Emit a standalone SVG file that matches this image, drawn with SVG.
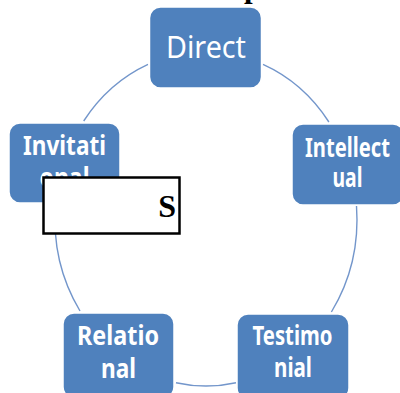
<svg xmlns="http://www.w3.org/2000/svg" width="400" height="393" viewBox="0 0 400 393">
<style>
.box{fill:#4f81bd;stroke:#ffffff;stroke-width:1.5}
.lbl{fill:#ffffff;font-family:"Noto Sans","Open Sans",sans-serif;text-anchor:middle}
.b{font-weight:bold;font-size:27px}
.arc{fill:none;stroke:#7396cb;stroke-width:1.4}
</style>
<rect width="400" height="393" fill="#ffffff"/>
<g id="connectors">
<path class="arc" d="M263,64.4 A151,167 0 0 1 328.9,122"/>
<path class="arc" d="M356.5,206 A151,167 0 0 1 331.4,312"/>
<path class="arc" d="M236,382.7 A151,167 0 0 1 176,382.7"/>
<path class="arc" d="M80,311 A151,167 0 0 1 55.5,205"/>
<path class="arc" d="M83.7,121 A151,167 0 0 1 148,64.4"/>
</g>
<text x="244" y="-3" font-family="Liberation Serif,serif" font-weight="bold" font-size="31">p</text>
<g id="direct">
<rect class="box" x="149.5" y="7" width="112" height="81" rx="11"/>
<text class="lbl" x="206" y="58" font-size="30" textLength="80" lengthAdjust="spacingAndGlyphs">Direct</text>
</g>
<g id="intellectual">
<rect class="box" x="292" y="124" width="112" height="81" rx="11"/>
<text class="lbl b" x="347.5" y="157" textLength="85" lengthAdjust="spacingAndGlyphs">Intellect</text>
<text class="lbl b" x="347.5" y="187" textLength="30" lengthAdjust="spacingAndGlyphs">ual</text>
</g>
<g id="testimonial">
<rect class="box" x="237" y="314" width="112" height="85" rx="11"/>
<text class="lbl b" x="292.5" y="345" textLength="80" lengthAdjust="spacingAndGlyphs">Testimo</text>
<text class="lbl b" x="293" y="377" textLength="38" lengthAdjust="spacingAndGlyphs">nial</text>
</g>
<g id="relational">
<rect class="box" x="63" y="313" width="111" height="85" rx="11"/>
<text class="lbl b" x="118" y="345" textLength="82" lengthAdjust="spacingAndGlyphs">Relatio</text>
<text class="lbl b" x="118.5" y="378" textLength="35" lengthAdjust="spacingAndGlyphs">nal</text>
</g>
<g id="invitational">
<rect class="box" x="9" y="123" width="111" height="80" rx="11"/>
<text class="lbl b" x="64.5" y="155" textLength="83" lengthAdjust="spacingAndGlyphs">Invitati</text>
<text class="lbl b" x="64.5" y="187" textLength="50" lengthAdjust="spacingAndGlyphs">onal</text>
</g>
<g id="label-box">
<rect x="43.5" y="177.5" width="136" height="56" fill="#ffffff" stroke="#000000" stroke-width="2.5"/>
<text x="176" y="217" text-anchor="end" font-family="Liberation Serif,serif" font-weight="bold" font-size="32" fill="#000000">S</text>
</g>
</svg>
